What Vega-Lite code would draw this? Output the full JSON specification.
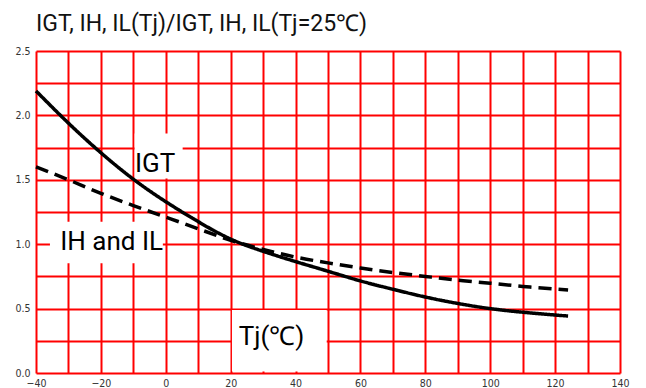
{
  "$schema": "https://vega.github.io/schema/vega-lite/v6.json",
  "width": 584,
  "height": 322,
  "autosize": "none",
  "padding": {"left": 36, "top": 51, "right": 26, "bottom": 15},
  "background": "white",
  "title": {
    "text": "IGT, IH, IL(Tj)/IGT, IH, IL(Tj=25℃)",
    "anchor": "start",
    "frame": "group",
    "font": "Roboto",
    "fontSize": 23,
    "fontWeight": "normal",
    "color": "#111",
    "offset": 10
  },
  "config": {
    "view": {"stroke": null},
    "axis": {
      "grid": true,
      "gridColor": "#ff0000",
      "gridWidth": 2,
      "gridOpacity": 1,
      "ticks": false,
      "domain": false,
      "labelFont": "DejaVu Sans Condensed",
      "labelFontSize": 10.5,
      "labelColor": "#333",
      "labelOverlap": false,
      "title": null
    }
  },
  "datasets": {
    "curves": [
      {"tj": -40, "r": 2.19, "s": "IGT"},
      {"tj": -30, "r": 1.94, "s": "IGT"},
      {"tj": -20, "r": 1.71, "s": "IGT"},
      {"tj": -10, "r": 1.505, "s": "IGT"},
      {"tj": 0, "r": 1.33, "s": "IGT"},
      {"tj": 10, "r": 1.175, "s": "IGT"},
      {"tj": 20, "r": 1.04, "s": "IGT"},
      {"tj": 30, "r": 0.945, "s": "IGT"},
      {"tj": 40, "r": 0.865, "s": "IGT"},
      {"tj": 50, "r": 0.79, "s": "IGT"},
      {"tj": 60, "r": 0.715, "s": "IGT"},
      {"tj": 70, "r": 0.65, "s": "IGT"},
      {"tj": 80, "r": 0.59, "s": "IGT"},
      {"tj": 90, "r": 0.54, "s": "IGT"},
      {"tj": 100, "r": 0.50, "s": "IGT"},
      {"tj": 110, "r": 0.472, "s": "IGT"},
      {"tj": 120, "r": 0.45, "s": "IGT"},
      {"tj": 124, "r": 0.443, "s": "IGT"},
      {"tj": -40, "r": 1.60, "s": "IH and IL"},
      {"tj": -30, "r": 1.50, "s": "IH and IL"},
      {"tj": -20, "r": 1.395, "s": "IH and IL"},
      {"tj": -10, "r": 1.30, "s": "IH and IL"},
      {"tj": 0, "r": 1.21, "s": "IH and IL"},
      {"tj": 10, "r": 1.12, "s": "IH and IL"},
      {"tj": 20, "r": 1.03, "s": "IH and IL"},
      {"tj": 30, "r": 0.96, "s": "IH and IL"},
      {"tj": 40, "r": 0.90, "s": "IH and IL"},
      {"tj": 50, "r": 0.855, "s": "IH and IL"},
      {"tj": 60, "r": 0.815, "s": "IH and IL"},
      {"tj": 70, "r": 0.78, "s": "IH and IL"},
      {"tj": 80, "r": 0.75, "s": "IH and IL"},
      {"tj": 90, "r": 0.72, "s": "IH and IL"},
      {"tj": 100, "r": 0.697, "s": "IH and IL"},
      {"tj": 110, "r": 0.672, "s": "IH and IL"},
      {"tj": 120, "r": 0.652, "s": "IH and IL"},
      {"tj": 124, "r": 0.645, "s": "IH and IL"}
    ],
    "boxes": [
      {"x1": -9.6, "x2": 5.2, "y1": 1.51, "y2": 1.86},
      {"x1": -35.7, "x2": -0.9, "y1": 0.852, "y2": 1.175},
      {"x1": 20.4, "x2": 49.6, "y1": 0.012, "y2": 0.49}
    ],
    "labels": [
      {"x": -3.3, "y": 1.56, "t": "IGT"},
      {"x": -16.7, "y": 0.955, "t": "IH and IL"},
      {"x": 32.6, "y": 0.22, "t": "Tj(℃)"}
    ]
  },
  "layer": [
    {
      "data": {"name": "boxes"},
      "mark": {"type": "rect", "fill": "white", "stroke": null},
      "encoding": {
        "x": {"field": "x1", "type": "quantitative", "scale": {"domain": [-40, 140], "nice": false},
              "axis": {"values": [-40,-30,-20,-10,0,10,20,30,40,50,60,70,80,90,100,110,120,130,140],
                       "labelExpr": "datum.value % 20 === 0 ? datum.label : ''", "labelFlush": false, "labelPadding": 5}},
        "x2": {"field": "x2"},
        "y": {"field": "y1", "type": "quantitative", "scale": {"domain": [0, 2.5], "nice": false},
              "axis": {"values": [0,0.25,0.5,0.75,1,1.25,1.5,1.75,2,2.25,2.5],
                       "labelExpr": "(datum.value * 2) % 1 === 0 ? format(datum.value, '.1f') : ''", "labelPadding": 6}},
        "y2": {"field": "y2"}
      }
    },
    {
      "data": {"name": "curves"},
      "mark": {"type": "line", "color": "black", "strokeWidth": 3.5, "interpolate": "natural"},
      "encoding": {
        "x": {"field": "tj", "type": "quantitative", "scale": {"domain": [-40, 140], "nice": false},
              "axis": {"values": [-40,-30,-20,-10,0,10,20,30,40,50,60,70,80,90,100,110,120,130,140],
                       "labelExpr": "datum.value % 20 === 0 ? datum.label : ''", "labelFlush": false, "labelPadding": 5}},
        "y": {"field": "r", "type": "quantitative", "scale": {"domain": [0, 2.5], "nice": false},
              "axis": {"values": [0,0.25,0.5,0.75,1,1.25,1.5,1.75,2,2.25,2.5],
                       "labelExpr": "(datum.value * 2) % 1 === 0 ? format(datum.value, '.1f') : ''", "labelPadding": 6}},
        "detail": {"field": "s"},
        "strokeDash": {"field": "s", "type": "nominal", "scale": {"domain": ["IGT", "IH and IL"], "range": [[1, 0], [13, 7]]}, "legend": null}
      }
    },
    {
      "data": {"name": "labels"},
      "mark": {"type": "text", "font": "Roboto", "fontSize": 26, "color": "black", "align": "center", "baseline": "alphabetic"},
      "encoding": {
        "x": {"field": "x", "type": "quantitative", "scale": {"domain": [-40, 140], "nice": false},
              "axis": {"values": [-40,-30,-20,-10,0,10,20,30,40,50,60,70,80,90,100,110,120,130,140],
                       "labelExpr": "datum.value % 20 === 0 ? datum.label : ''", "labelFlush": false, "labelPadding": 5}},
        "y": {"field": "y", "type": "quantitative", "scale": {"domain": [0, 2.5], "nice": false},
              "axis": {"values": [0,0.25,0.5,0.75,1,1.25,1.5,1.75,2,2.25,2.5],
                       "labelExpr": "(datum.value * 2) % 1 === 0 ? format(datum.value, '.1f') : ''", "labelPadding": 6}},
        "text": {"field": "t"}
      }
    }
  ]
}
